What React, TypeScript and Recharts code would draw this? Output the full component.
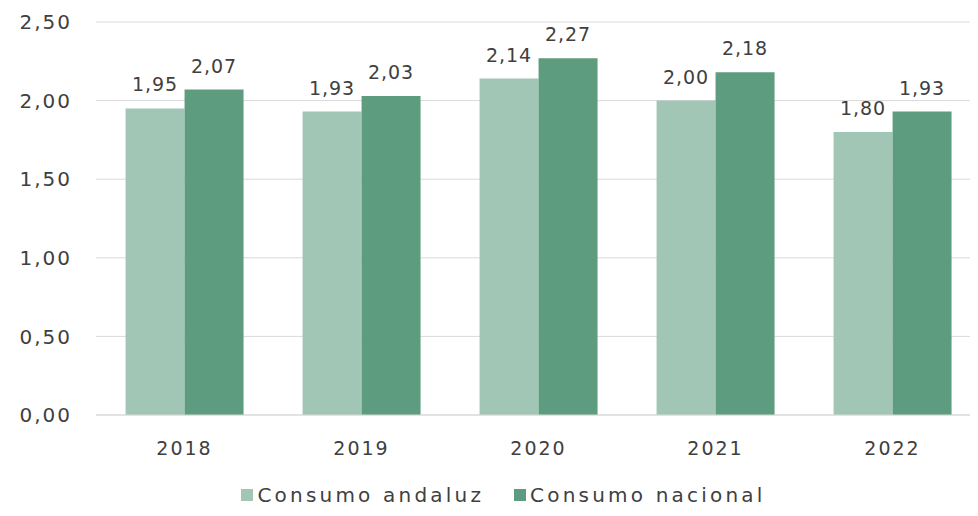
import React from 'react';
import { BarChart, Bar, XAxis, YAxis, CartesianGrid, Legend, LabelList } from 'recharts';

const years = ['2018', '2019', '2020', '2021', '2022'];
const andaluz = [1.95, 1.93, 2.14, 2.0, 1.8];
const nacional = [2.07, 2.03, 2.27, 2.18, 1.93];
const yTicks = [0, 0.5, 1, 1.5, 2, 2.5];

const LIGHT = '#a1c6b6';
const DARK = '#5e9c7f';
const TEXT = '#404040';
const FONT = '"DejaVu Sans", sans-serif';

const data = years.map((y, i) => ({ year: y, andaluz: andaluz[i], nacional: nacional[i] }));

const fmt = (v: any) => (typeof v === 'number' ? v.toFixed(2).replace('.', ',') : v);

const LegendContent = () => (
    <div style={{ display: 'flex', justifyContent: 'center', gap: 30, fontFamily: FONT, fontSize: 20, letterSpacing: 3.2, color: TEXT, paddingLeft: 26, paddingTop: 16 }}>
        {[{ c: LIGHT, t: 'Consumo andaluz' }, { c: DARK, t: 'Consumo nacional' }].map((it) => (
            <span key={it.t} style={{ display: 'flex', alignItems: 'center' }}>
                <span style={{ display: 'inline-block', width: 12, height: 12, background: it.c, marginRight: 4 }} />
                {it.t}
            </span>
        ))}
    </div>
);

export default function App() {
    return (
        <div style={{ margin: -8, width: 978, height: 516, overflow: 'hidden', background: '#fff' }}>
            <BarChart
                width={984}
                height={516}
                data={data}
                margin={{ top: 22, right: 3, left: 0, bottom: 4 }}
                barCategoryGap="16.7%"
                barGap={0}
            >
                <CartesianGrid vertical={false} stroke="#d9d9d9" />
                <XAxis
                    dataKey="year"
                    axisLine={{ stroke: '#d9d9d9' }}
                    tickLine={false}
                    tickSize={0}
                    tickMargin={27}
                    height={52}
                    tick={{ fill: TEXT, fontSize: 19, fontFamily: FONT, letterSpacing: 2 }}
                />
                <YAxis
                    domain={[0, 2.5]}
                    ticks={yTicks}
                    width={96}
                    axisLine={false}
                    tickLine={false}
                    tickSize={0}
                    tickMargin={24}
                    tickFormatter={fmt}
                    tick={{ fill: TEXT, fontSize: 20, fontFamily: FONT, letterSpacing: 2 }}
                />
                <Legend verticalAlign="bottom" height={45} content={<LegendContent />} />
                <Bar dataKey="andaluz" fill={LIGHT} isAnimationActive={false}>
                    <LabelList dataKey="andaluz" position="top" offset={17} formatter={fmt} style={{ fill: TEXT, fontSize: 19, fontFamily: FONT, letterSpacing: 1 }} />
                </Bar>
                <Bar dataKey="nacional" fill={DARK} isAnimationActive={false}>
                    <LabelList dataKey="nacional" position="top" offset={17} formatter={fmt} style={{ fill: TEXT, fontSize: 19, fontFamily: FONT, letterSpacing: 1 }} />
                </Bar>
            </BarChart>
        </div>
    );
}
